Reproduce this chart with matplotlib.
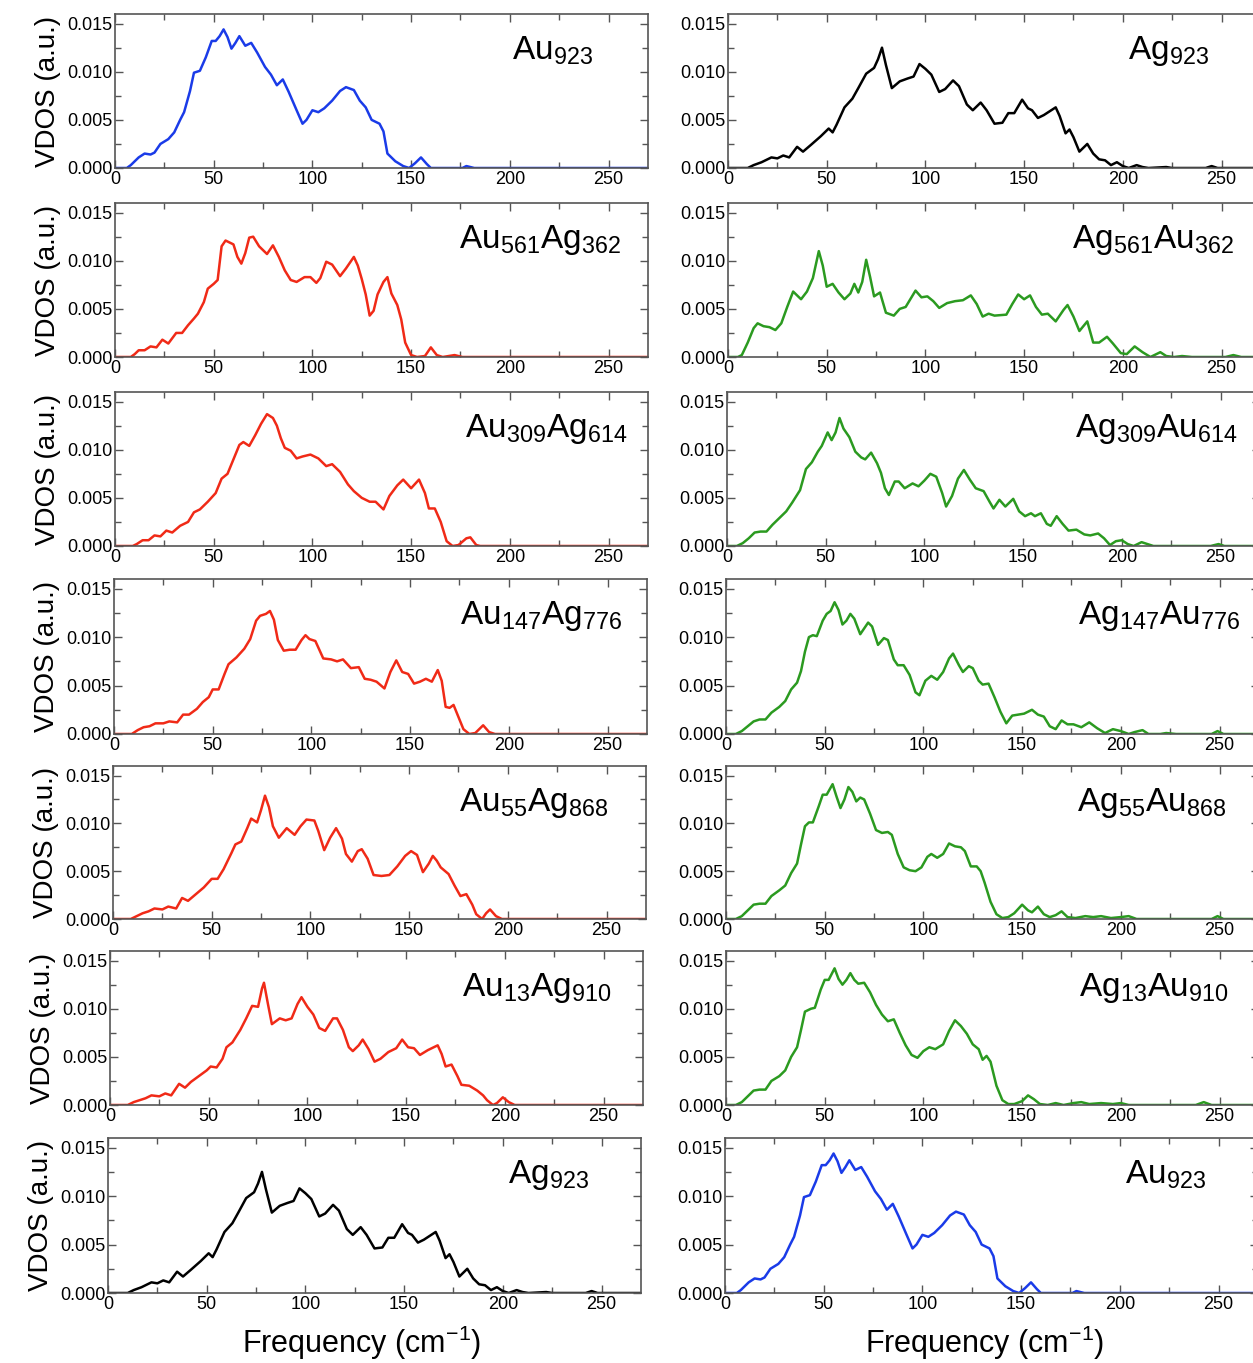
import numpy as np
import matplotlib
matplotlib.use('Agg')
import matplotlib.pyplot as plt
from matplotlib.ticker import MultipleLocator, FormatStrFormatter

plt.rcParams['font.family'] = ['Liberation Sans', 'DejaVu Sans']
plt.rcParams['mathtext.fontset'] = 'custom'
plt.rcParams['mathtext.rm'] = 'Liberation Sans'
plt.rcParams['mathtext.it'] = 'Liberation Sans:italic'

'''
VDOS curves, frequency in cm-1, VDOS in units of 1e-4
'''
au923_x = [0, 6, 8, 12, 15, 18, 20, 23, 27, 30, 33, 35, 38, 40, 43, 46, 49, 51, 53, 55, 57, 59, 61, 63, 66,
           69, 72, 76, 79, 82, 85, 88, 92, 95, 97, 100, 103, 106, 110, 114, 117, 121, 124, 127, 130, 134,
           136, 138, 142, 146, 149, 152, 155, 158, 160, 176, 178, 180, 182, 270]
au923_y = [0, 0, 3, 11, 15, 14, 16, 25, 30, 37, 50, 58, 80, 99, 101, 115, 132, 132, 137, 144, 136, 124, 130,
           137, 127, 130, 120, 105, 97, 86, 92, 79, 60, 46, 50, 60, 58, 62, 70, 80, 84, 81, 70, 63, 50, 46,
           38, 15, 7, 2, 0, 5, 11, 4, 0, 0, 2, 1, 0, 0]

ag923_x = [0, 10, 13, 17, 22, 25, 28, 31, 35, 38, 42, 47, 51, 53, 55, 59, 63, 66, 70, 74, 76, 78, 80, 83, 87,
           91, 94, 97, 100, 103, 107, 110, 114, 117, 121, 124, 128, 131, 135, 139, 142, 145, 149, 152, 154,
           157, 160, 163, 166, 168, 171, 173, 175, 178, 182, 185, 188, 191, 194, 197, 200, 203, 207, 210,
           213, 222, 225, 242, 245, 248, 270]
ag923_y = [0, 0, 3, 6, 11, 10, 13, 11, 22, 17, 24, 33, 41, 37, 45, 63, 72, 83, 98, 104, 113, 125, 107, 83, 90,
           93, 95, 108, 103, 97, 79, 82, 91, 85, 66, 60, 68, 60, 46, 47, 57, 57, 71, 62, 60, 52, 55, 59, 63,
           54, 36, 40, 32, 17, 25, 15, 9, 8, 3, 6, 2, 0, 3, 1, 0, 1, 0, 0, 2, 0, 0]

au561_x = [0, 8, 10, 12, 15, 18, 21, 24, 27, 31, 34, 37, 40, 42, 45, 47, 50, 52, 54, 56, 58, 60, 62, 64, 66,
           68, 70, 73, 77, 80, 83, 86, 89, 92, 96, 99, 102, 104, 107, 110, 114, 117, 121, 123, 125, 127,
           129, 131, 133, 136, 138, 140, 143, 145, 147, 150, 153, 157, 160, 163, 166, 172, 176, 270]
au561_y = [0, 0, 3, 7, 7, 11, 10, 18, 14, 25, 25, 33, 40, 45, 57, 71, 76, 80, 115, 121, 119, 117, 104, 97,
           108, 124, 125, 115, 107, 116, 104, 90, 80, 78, 83, 83, 77, 82, 99, 96, 84, 92, 104, 95, 81, 65,
           43, 48, 65, 78, 83, 66, 54, 39, 15, 2, 0, 1, 10, 2, 0, 2, 0, 0]

ag561_x = [0, 5, 7, 10, 13, 15, 18, 21, 24, 27, 30, 33, 37, 40, 43, 46, 48, 50, 53, 56, 59, 62, 64, 66, 68,
           70, 72, 74, 77, 80, 84, 87, 90, 95, 98, 101, 104, 107, 111, 115, 119, 123, 126, 129, 132, 135,
           141, 144, 147, 150, 153, 156, 159, 162, 166, 170, 172, 175, 178, 182, 185, 188, 192, 195, 199,
           202, 206, 210, 214, 219, 222, 226, 230, 235, 252, 256, 260, 270]
ag561_y = [0, 0, 2, 15, 30, 35, 32, 31, 28, 35, 52, 68, 60, 68, 82, 110, 95, 73, 76, 67, 60, 66, 76, 67, 78,
           101, 83, 63, 67, 46, 43, 50, 52, 69, 62, 63, 58, 51, 56, 58, 59, 64, 55, 42, 45, 43, 44, 55, 65,
           60, 64, 52, 44, 45, 37, 49, 54, 42, 27, 37, 15, 15, 21, 14, 4, 3, 11, 5, 0, 5, 1, 0, 1, 0, 0, 2,
           0, 0]

au309_x = [0, 9, 11, 14, 17, 20, 23, 26, 29, 33, 37, 40, 43, 47, 51, 54, 57, 60, 63, 65, 68, 71, 74, 77, 80,
           82, 84, 86, 89, 92, 95, 99, 103, 107, 110, 114, 118, 121, 125, 129, 132, 136, 139, 143, 146, 150,
           154, 157, 159, 162, 165, 168, 171, 174, 178, 180, 183, 185, 270]
au309_y = [0, 0, 2, 6, 6, 11, 10, 16, 14, 21, 25, 35, 38, 46, 55, 70, 75, 90, 105, 108, 104, 115, 127, 137,
           133, 125, 112, 102, 99, 91, 93, 95, 91, 83, 85, 77, 64, 57, 50, 46, 46, 38, 52, 63, 69, 60, 69,
           55, 39, 39, 25, 5, 0, 1, 8, 9, 1, 0, 0]

ag309_x = [0, 5, 8, 11, 14, 17, 20, 23, 26, 30, 33, 37, 40, 43, 46, 48, 51, 53, 55, 57, 59, 62, 65, 68, 70,
           73, 76, 78, 80, 82, 85, 87, 90, 94, 97, 100, 103, 106, 109, 111, 114, 117, 120, 123, 126, 130,
           133, 135, 138, 141, 145, 148, 151, 154, 156, 159, 162, 164, 167, 170, 173, 177, 181, 184, 188,
           191, 194, 197, 200, 203, 206, 210, 213, 216, 245, 249, 252, 270]
ag309_y = [0, 0, 3, 8, 14, 15, 15, 22, 28, 36, 45, 58, 80, 87, 98, 104, 118, 110, 118, 133, 122, 113, 98,
           92, 90, 97, 86, 76, 60, 53, 67, 67, 60, 65, 62, 68, 75, 72, 55, 41, 52, 70, 79, 69, 60, 57, 46,
           39, 48, 41, 49, 36, 31, 34, 31, 34, 23, 21, 31, 23, 16, 17, 12, 11, 13, 8, 1, 5, 6, 2, 0, 4, 2,
           0, 0, 2, 0, 0]

au147_x = [0, 9, 12, 15, 18, 21, 25, 28, 32, 35, 38, 42, 45, 48, 50, 53, 56, 58, 62, 66, 69, 72, 74, 77, 79,
           81, 83, 86, 89, 92, 95, 97, 99, 102, 106, 110, 113, 116, 120, 124, 127, 130, 133, 137, 140, 143,
           146, 149, 152, 155, 158, 161, 164, 166, 168, 170, 172, 174, 177, 180, 183, 187, 190, 193, 270]
au147_y = [0, 0, 4, 7, 8, 11, 11, 13, 12, 20, 20, 26, 33, 38, 46, 46, 62, 72, 79, 88, 98, 117, 122, 124, 127,
           118, 97, 86, 87, 87, 97, 102, 98, 96, 78, 77, 75, 77, 68, 69, 57, 56, 54, 47, 64, 76, 64, 62, 52,
           54, 57, 54, 66, 55, 28, 27, 30, 20, 5, 0, 1, 9, 2, 0, 0]

ag147_x = [0, 5, 8, 11, 14, 17, 20, 23, 27, 30, 33, 36, 38, 40, 42, 44, 46, 49, 51, 53, 55, 57, 59, 61, 63,
           65, 68, 70, 72, 74, 77, 80, 82, 85, 87, 90, 93, 96, 98, 101, 104, 107, 110, 113, 115, 118, 120,
           123, 125, 128, 130, 133, 136, 139, 142, 145, 148, 151, 155, 158, 161, 164, 167, 170, 173, 176,
           180, 184, 188, 192, 196, 200, 204, 207, 211, 214, 220, 223, 228, 246, 249, 252, 270]
ag147_y = [0, 0, 3, 8, 13, 15, 15, 22, 28, 34, 46, 53, 65, 85, 100, 102, 101, 117, 124, 127, 136, 128, 113,
           117, 124, 119, 103, 109, 115, 111, 92, 99, 97, 77, 71, 71, 61, 43, 40, 55, 60, 56, 64, 78, 83,
           71, 64, 70, 68, 55, 51, 52, 38, 23, 11, 19, 20, 21, 25, 20, 18, 8, 5, 14, 10, 10, 7, 12, 6, 1,
           5, 3, 0, 2, 4, 0, 0, 1, 0, 0, 3, 0, 0]

au55_x = [0, 9, 12, 15, 18, 21, 25, 28, 32, 35, 38, 42, 46, 50, 53, 56, 60, 62, 65, 68, 70, 73, 75, 77, 79,
          81, 84, 88, 92, 95, 98, 102, 104, 107, 110, 113, 116, 118, 121, 124, 126, 129, 132, 136, 140, 144,
          148, 151, 154, 157, 160, 162, 164, 166, 170, 173, 176, 179, 182, 184, 187, 189, 191, 194, 197, 270]
au55_y = [0, 0, 3, 6, 8, 11, 10, 13, 11, 22, 19, 26, 33, 42, 42, 52, 69, 78, 81, 95, 105, 101, 114, 129, 117,
          97, 85, 95, 88, 97, 104, 103, 92, 72, 85, 95, 84, 68, 60, 71, 73, 63, 46, 45, 46, 55, 66, 71, 67,
          49, 58, 66, 61, 54, 47, 35, 24, 26, 15, 5, 0, 6, 10, 3, 0, 0]

ag55_x = [0, 5, 8, 11, 14, 17, 20, 23, 27, 30, 33, 36, 38, 40, 42, 44, 47, 49, 51, 54, 56, 58, 60, 62, 64,
          66, 68, 70, 73, 76, 79, 82, 84, 87, 90, 93, 96, 99, 102, 104, 107, 110, 113, 116, 119, 121, 124,
          127, 129, 131, 134, 137, 140, 143, 146, 150, 153, 155, 158, 161, 164, 167, 170, 173, 177, 182,
          186, 190, 195, 200, 204, 208, 246, 249, 252, 270]
ag55_y = [0, 0, 3, 9, 15, 16, 16, 24, 30, 35, 48, 58, 78, 97, 101, 101, 118, 130, 130, 141, 128, 116, 125,
          138, 133, 123, 127, 125, 110, 93, 90, 91, 88, 68, 54, 51, 50, 54, 65, 68, 64, 68, 79, 76, 75, 71,
          55, 55, 50, 38, 18, 5, 1, 2, 6, 15, 9, 7, 13, 5, 2, 4, 8, 2, 1, 3, 2, 3, 1, 2, 3, 0, 0, 3, 0, 0]

au13_x = [0, 9, 12, 15, 18, 21, 25, 28, 31, 35, 38, 41, 45, 49, 51, 54, 57, 59, 62, 66, 69, 72, 75, 77, 78,
          80, 82, 86, 89, 92, 95, 97, 100, 103, 106, 109, 113, 115, 118, 121, 123, 126, 128, 131, 134, 137,
          141, 145, 148, 151, 154, 157, 161, 164, 166, 168, 170, 173, 176, 178, 182, 186, 189, 191, 194,
          196, 199, 202, 205, 270]
au13_y = [0, 0, 3, 5, 7, 10, 9, 12, 10, 22, 18, 24, 30, 36, 40, 39, 48, 60, 65, 78, 90, 103, 102, 121, 127,
          105, 84, 90, 88, 90, 105, 112, 102, 94, 80, 77, 90, 90, 78, 60, 56, 62, 68, 58, 45, 48, 55, 59,
          68, 60, 59, 52, 57, 60, 62, 53, 40, 42, 30, 21, 20, 15, 10, 5, 0, 2, 8, 3, 0, 0]

ag13_x = [0, 5, 8, 11, 14, 17, 20, 23, 27, 30, 33, 36, 38, 40, 43, 45, 48, 50, 52, 55, 57, 59, 61, 63, 65,
          67, 70, 73, 76, 79, 82, 85, 88, 91, 94, 97, 100, 103, 106, 110, 113, 116, 119, 122, 125, 128,
          130, 132, 134, 137, 140, 143, 146, 150, 153, 156, 159, 163, 167, 171, 176, 180, 184, 190, 196,
          200, 204, 238, 242, 246, 270]
ag13_y = [0, 0, 3, 9, 15, 16, 16, 25, 30, 36, 50, 60, 78, 97, 100, 101, 120, 130, 130, 142, 131, 125, 130,
          137, 130, 126, 127, 117, 104, 94, 87, 89, 75, 62, 52, 49, 56, 60, 58, 63, 77, 88, 82, 74, 63, 58,
          47, 51, 45, 20, 5, 1, 1, 4, 10, 6, 1, 0, 2, 0, 2, 3, 1, 2, 1, 2, 0, 0, 3, 0, 0]

left_names = [r'$\mathregular{Au_{923}}$', r'$\mathregular{Au_{561}Ag_{362}}$', r'$\mathregular{Au_{309}Ag_{614}}$',
              r'$\mathregular{Au_{147}Ag_{776}}$', r'$\mathregular{Au_{55}Ag_{868}}$',
              r'$\mathregular{Au_{13}Ag_{910}}$', r'$\mathregular{Ag_{923}}$']
right_names = [r'$\mathregular{Ag_{923}}$', r'$\mathregular{Ag_{561}Au_{362}}$', r'$\mathregular{Ag_{309}Au_{614}}$',
               r'$\mathregular{Ag_{147}Au_{776}}$', r'$\mathregular{Ag_{55}Au_{868}}$',
               r'$\mathregular{Ag_{13}Au_{910}}$', r'$\mathregular{Au_{923}}$']
left_curves = [(au923_x, au923_y), (au561_x, au561_y), (au309_x, au309_y), (au147_x, au147_y),
               (au55_x, au55_y), (au13_x, au13_y), (ag923_x, ag923_y)]
right_curves = [(ag923_x, ag923_y), (ag561_x, ag561_y), (ag309_x, ag309_y), (ag147_x, ag147_y),
                (ag55_x, ag55_y), (ag13_x, ag13_y), (au923_x, au923_y)]

blue, red, green = '#1a3be8', '#f02a17', '#2b9a20'
left_colors = [blue, red, red, red, red, red, 'black']
right_colors = ['black', green, green, green, green, green, blue]

# layout in pixels (top, bottom) per row
W, H = 1253, 1363
rows = [(14, 168), (203, 357), (392, 546), (579, 734), (766, 919), (951, 1105), (1138, 1293)]
left_x0 = [115, 115, 115, 114, 113, 110, 108]
right_x0 = [728, 728, 727, 726, 726, 726, 725]
left_lab_x = [0.745, 0.645, 0.657, 0.649, 0.649, 0.66, 0.75]
right_lab_x = [0.751, 0.645, 0.652, 0.66, 0.658, 0.662, 0.75]
panel_w = 533

fig = plt.figure(figsize=(W / 100, H / 100), dpi=100)


def style_axes(ax):
    ax.set_xlim(0, 270)
    ax.set_ylim(0, 0.016)
    ax.xaxis.set_major_locator(MultipleLocator(50))
    ax.xaxis.set_minor_locator(MultipleLocator(25))
    ax.yaxis.set_major_locator(MultipleLocator(0.005))
    ax.yaxis.set_minor_locator(MultipleLocator(0.0025))
    ax.yaxis.set_major_formatter(FormatStrFormatter('%.3f'))
    ax.tick_params(which='both', direction='in', top=True, right=True, color='#555555',
                   labelsize=13, pad=2)
    ax.tick_params(which='major', length=6, width=1)
    ax.tick_params(which='minor', length=4, width=1)
    for sp in ax.spines.values():
        sp.set_color('#555555')
        sp.set_linewidth(1.2)


for i, (top, bot) in enumerate(rows):
    for col in range(2):
        x0 = left_x0[i] if col == 0 else right_x0[i]
        ax = fig.add_axes([x0 / W, 1 - bot / H, panel_w / W, (bot - top) / H])
        style_axes(ax)
        if col == 0:
            cx, cy = left_curves[i]
            ax.plot(cx, np.array(cy) * 1e-4, color=left_colors[i], lw=1.8, solid_joinstyle='round')
            ax.text(left_lab_x[i], 0.76, left_names[i], transform=ax.transAxes, fontsize=24, va='center')
            ax.set_ylabel('VDOS (a.u.)', fontsize=20, labelpad=4)
        else:
            cx, cy = right_curves[i]
            ax.plot(cx, np.array(cy) * 1e-4, color=right_colors[i], lw=1.8, solid_joinstyle='round')
            ax.text(right_lab_x[i], 0.76, right_names[i], transform=ax.transAxes, fontsize=24, va='center')

fig.text(362 / W, 1 - 1353 / H, r'Frequency (cm$^{-1}$)', fontsize=22, ha='center', va='baseline')
fig.text(985 / W, 1 - 1353 / H, r'Frequency (cm$^{-1}$)', fontsize=22, ha='center', va='baseline')

fig.savefig('out.png', dpi=100)
